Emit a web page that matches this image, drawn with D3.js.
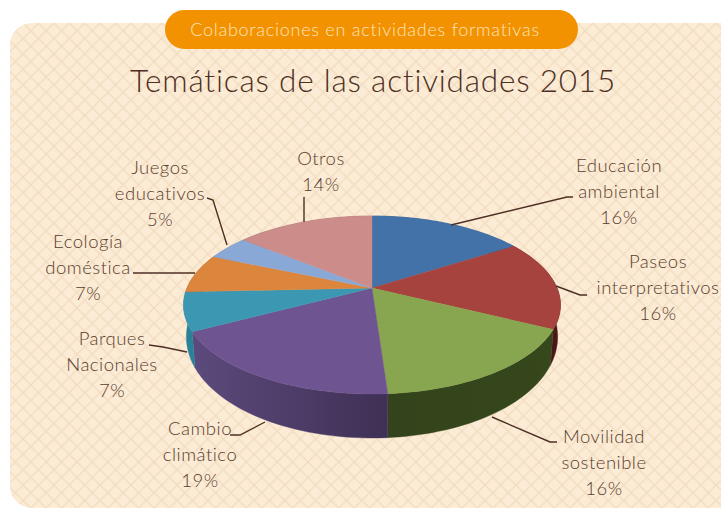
<!DOCTYPE html>
<html><head><meta charset="utf-8">
<script src="https://cdn.jsdelivr.net/npm/d3@7"></script>
<style>html,body{margin:0;padding:0;background:#fff}svg{display:block}
text{font-family:Lato,"Open Sans",sans-serif;font-weight:300}</style></head>
<body><svg id="c" width="721" height="509"></svg>
<script>
const categories=["Educación ambiental","Paseos interpretativos","Movilidad sostenible","Cambio climático","Parques Nacionales","Ecología doméstica","Juegos educativos","Otros"];
const shares=[16,16.3,16.6,18.4,7,7.1,4.4,14.2];
const percentLabels=["16%","16%","16%","19%","7%","7%","5%","14%"];
const topColors=["#4272a8","#a6433f","#88a64f","#6e5490","#3c98b2","#dc853d","#8aa8d6","#cb8c8a"];
const sideColorsLight=["#2f5078","#4a1616","#33431b","#5c4a7c","#2b8298","#a8622a","#6a82a8","#9a6866"];
const sideColorsDark=["#2f5078","#4a1616","#36471c","#3f3055","#2b8298","#a8622a","#6a82a8","#9a6866"];
const labelLines=[["Educación","ambiental","16%"],["Paseos","interpretativos","16%"],["Movilidad","sostenible","16%"],["Cambio","climático","19%"],["Parques","Nacionales","7%"],["Ecología","doméstica","7%"],["Juegos","educativos","5%"],["Otros","14%"]];
const labelAnchors=[[619,172],[658,268],[604,443],[200,435],[112,345],[88,248],[160,174],[321,165]];
const leaderLines=[[[451,225],[567,197],[573,197]],[[556,286],[580,295],[587,295]],[[492,417],[550,442],[557,442]],[[265,422],[240,435],[230,435]],[[187,352],[163,347],[149,345]],[[195,273],[133,273]],[[227,245],[213,200],[207,198]],[[304,222],[304,197]]];

const svg=d3.select("#c"), defs=svg.append("defs");
const p=defs.append("pattern").attr("id","lat").attr("patternUnits","userSpaceOnUse").attr("width",15.4).attr("height",15.4);
p.append("rect").attr("width",15.4).attr("height",15.4).attr("fill","#fcecd5");
p.append("path").attr("d","M0 0L15.4 15.4M15.4 0L0 15.4").attr("stroke","#f1dcc0").attr("stroke-width",1.3);
svg.append("rect").attr("x",10).attr("y",23).attr("width",760).attr("height",485).attr("rx",22).attr("fill","url(#lat)");
svg.append("rect").attr("x",165).attr("y",10).attr("width",413).attr("height",39).attr("rx",19.5).attr("fill","#f39200");
svg.append("text").attr("x",365).attr("y",36).attr("text-anchor","middle").attr("font-size",18).attr("letter-spacing",.75).attr("fill","#fde4bd").text("Colaboraciones en actividades formativas");
svg.append("text").attr("x",373).attr("y",92).attr("text-anchor","middle").attr("font-size",31.5).attr("letter-spacing",.8).attr("fill","#4e2f25").text("Temáticas de las actividades 2015");

// perspective mapping of the disc
const cx=372,cy=288,A=85.75,B=185,c=-0.191;
const topPt=a=>{const u=Math.sin(a),v=-Math.cos(a),d=1+c*v;return [cx+B*u/d,cy+A*v/d]};
const botPt=a=>{const [x,y]=topPt(a),v=-Math.cos(a);return [cx+(x-cx)*0.985,y+29+15*v]};
const arcs=d3.pie().sort(null).value(d=>d)(shares);
const line=d3.line();
const samp=(d)=>d3.range(0,41).map(i=>d.startAngle+(d.endAngle-d.startAngle)*i/40);
arcs.forEach((d,i)=>{
  const g=defs.append("linearGradient").attr("id","s"+i).attr("gradientUnits","userSpaceOnUse")
    .attr("x1",topPt(d.endAngle)[0]).attr("x2",topPt(d.startAngle)[0]).attr("y1",0).attr("y2",0);
  g.append("stop").attr("offset",0).attr("stop-color",sideColorsLight[i]);
  g.append("stop").attr("offset",1).attr("stop-color",sideColorsDark[i]);
  const a=samp(d);
  svg.append("path").attr("d",line(a.map(topPt).concat(a.slice().reverse().map(botPt)))+"Z")
    .attr("fill","url(#s"+i+")").attr("stroke","url(#s"+i+")").attr("stroke-width",.4);
});
arcs.forEach((d,i)=>{
  svg.append("path").attr("d",line([[cx,cy]].concat(samp(d).map(topPt)))+"Z")
    .attr("fill",topColors[i]).attr("stroke",topColors[i]).attr("stroke-width",.4);
});
leaderLines.forEach(l=>svg.append("path").attr("d",line(l)).attr("fill","none").attr("stroke","#4e2f25").attr("stroke-width",1.4));
labelLines.forEach((ls,i)=>{
  const t=svg.append("text").attr("text-anchor","middle").attr("font-size",18.5).attr("letter-spacing",.5).attr("fill","#5a3c30");
  ls.forEach((s,j)=>t.append("tspan").attr("x",labelAnchors[i][0]).attr("y",labelAnchors[i][1]+j*26).text(s));
});
</script></body></html>
